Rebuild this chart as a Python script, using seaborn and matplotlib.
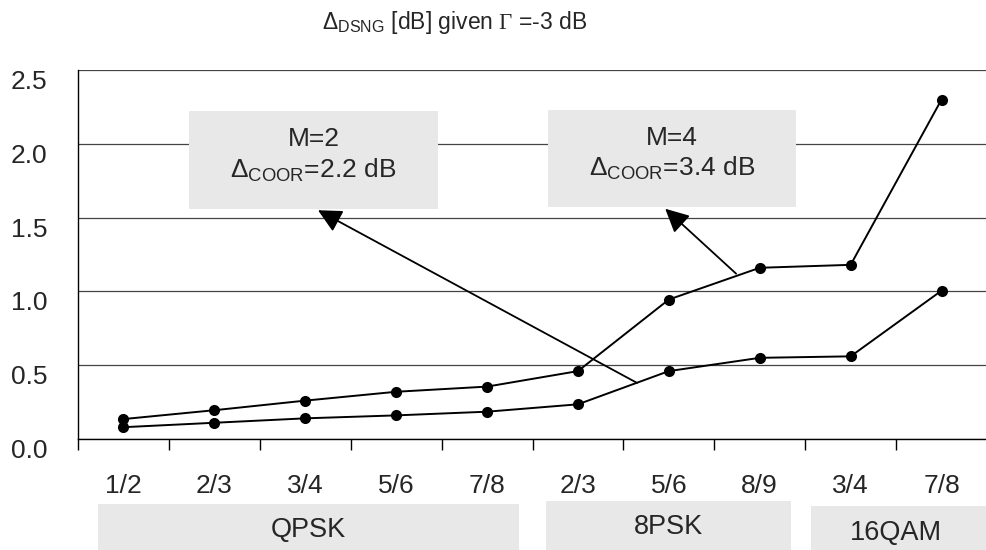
import matplotlib
matplotlib.use('Agg')

import pandas as pd
import matplotlib.pyplot as plt
import seaborn as sns
from matplotlib.patches import Rectangle
from matplotlib.transforms import blended_transform_factory

# code rates along the x axis, grouped by modulation
code_rates = ['1/2', '2/3', '3/4', '5/6', '7/8', '2/3', '5/6', '8/9', '3/4', '7/8']
modulations = ['QPSK', '8PSK', '16QAM']

# Delta_DSNG [dB]
m2_delta = [0.08, 0.11, 0.14, 0.16, 0.185, 0.235, 0.46, 0.55, 0.56, 1.005]
m4_delta = [0.135, 0.195, 0.26, 0.32, 0.355, 0.46, 0.945, 1.16, 1.18, 2.30]

y_ticks = [0.0, 0.5, 1.0, 1.5, 2.0, 2.5]

df = pd.DataFrame({
    'pos': list(range(len(code_rates))) * 2,
    'delta': m2_delta + m4_delta,
    'series': ['M=2'] * len(m2_delta) + ['M=4'] * len(m4_delta),
})

sns.set_theme(style='white')
plt.rcParams['font.family'] = ['Liberation Sans', 'DejaVu Sans']
plt.rcParams['mathtext.fontset'] = 'custom'
plt.rcParams['mathtext.rm'] = 'Liberation Serif'
plt.rcParams['mathtext.sf'] = 'Liberation Sans'
plt.rcParams['mathtext.it'] = 'Liberation Sans:italic'

fig = plt.figure(figsize=(9.87, 5.5), dpi=100)
fig.patch.set_facecolor('white')
ax = fig.add_axes([78 / 987, 111 / 550, 909 / 987, 369 / 550])

sns.lineplot(data=df, x='pos', y='delta', hue='series', palette=['black', 'black'],
             marker='o', markersize=8, markeredgewidth=0, linewidth=1.4,
             legend=False, ax=ax, zorder=4)

ax.set_xlim(-0.5, -0.5 + 909 / 91.3)
ax.set_ylim(0, 2.5)
ax.set_xlabel('')
ax.set_ylabel('')

# y axis: gridlines, labels hanging just below each line
ax.set_yticks(y_ticks)
ax.set_yticklabels([f'{v:.1f}' for v in y_ticks], fontsize=19, va='top')
ax.yaxis.grid(True, color='#444444', linewidth=0.9)
ax.xaxis.grid(False)
ax.tick_params(axis='y', length=0, pad=22)

# x axis: labels at category centres, tick marks at boundaries
ax.set_xticks(range(len(code_rates)))
ax.set_xticklabels(code_rates, fontsize=19)
ax.set_xticks([i - 0.5 for i in range(len(code_rates) + 1)], minor=True)
ax.tick_params(axis='x', which='major', length=0, pad=25)
ax.tick_params(axis='x', which='minor', length=8, width=1, color='black', direction='out', bottom=True)

for s in ['top', 'right']:
    ax.spines[s].set_visible(False)
for s in ['left', 'bottom']:
    ax.spines[s].set_color('black')
    ax.spines[s].set_linewidth(1)

# annotation boxes
box_color = '#e8e8e8'
ax.add_patch(Rectangle((0.72, 1.56), 2.74, 0.66, facecolor=box_color, edgecolor='none', zorder=3))
ax.add_patch(Rectangle((4.67, 1.57), 2.73, 0.66, facecolor=box_color, edgecolor='none', zorder=3))
ax.text(2.09, 2.03, 'M=2', ha='center', va='center', fontsize=19, zorder=5)
ax.text(2.09, 1.82, r'$\mathsf{\Delta_{COOR}}$=2.2 dB', ha='center', va='center', fontsize=19, zorder=5)
ax.text(6.03, 2.04, 'M=4', ha='center', va='center', fontsize=19, zorder=5)
ax.text(6.03, 1.83, r'$\mathsf{\Delta_{COOR}}$=3.4 dB', ha='center', va='center', fontsize=19, zorder=5)

arrow = dict(arrowstyle='-|>,head_length=0.9,head_width=0.45', color='black', lw=1.3,
             mutation_scale=16, shrinkA=0, shrinkB=0)
ax.annotate('', xy=(2.14, 1.55), xytext=(5.65, 0.38), arrowprops=arrow, zorder=5)
ax.annotate('', xy=(5.96, 1.56), xytext=(6.74, 1.12), arrowprops=arrow, zorder=5)

# modulation group boxes under the axis
trans = blended_transform_factory(ax.transData, fig.transFigure)
group_spans = [(-0.28, 4.35), (4.65, 7.34), (7.56, 10.0)]
group_tops = [504, 501, 506]
group_text_y = [530, 527, 533]
for name, (x0, x1), top, ty in zip(modulations, group_spans, group_tops, group_text_y):
    ax.add_patch(Rectangle((x0, 0), x1 - x0, (550 - top) / 550, transform=trans,
                           facecolor=box_color, edgecolor='none', clip_on=False))
    tx = (x0 + x1) / 2 if name != '16QAM' else 8.5
    ax.text(tx, (550 - ty) / 550, name, transform=trans, ha='center', va='center',
            fontsize=19.5, clip_on=False)

fig.text(455 / 987, 1 - 22 / 550, r'$\mathsf{\Delta_{DSNG}}$ [dB] given $\Gamma$ =-3 dB',
         ha='center', va='center', fontsize=16.5)

fig.savefig('out.png', dpi=100)
